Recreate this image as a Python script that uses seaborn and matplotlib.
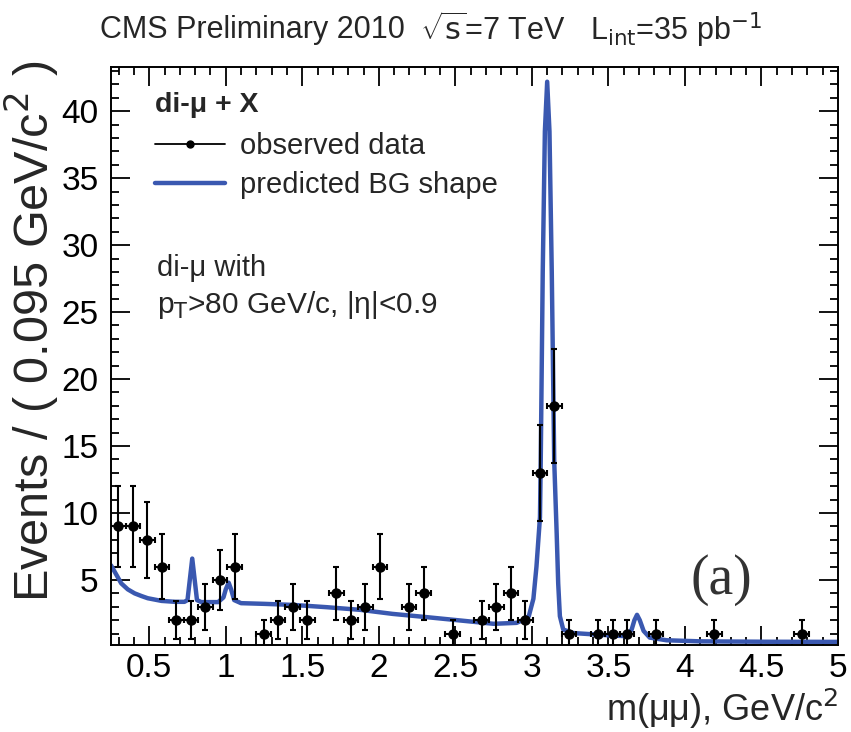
import numpy as np
import pandas as pd
import matplotlib
matplotlib.use("Agg")
import matplotlib.pyplot as plt
import seaborn as sns
from matplotlib.lines import Line2D
from matplotlib.ticker import MultipleLocator, FuncFormatter

# observed di-muon mass spectrum (bin centres, 0.095 GeV/c^2 bins), empty bins left out
mass = [0.2975, 0.3925, 0.4875, 0.5825, 0.6775, 0.7725, 0.8675, 0.9625, 1.0575,
        1.2475, 1.3425, 1.4375, 1.5325, 1.7225, 1.8175, 1.9125, 2.0075, 2.1975,
        2.2925, 2.4825, 2.6725, 2.7675, 2.8625, 2.9575, 3.0525, 3.1475, 3.2425,
        3.4325, 3.5275, 3.6225, 3.8125, 4.1925, 4.7625]
counts = [9, 9, 8, 6, 2, 2, 3, 5, 6,
          1, 2, 3, 2, 4, 2, 3, 6, 3,
          4, 1, 2, 3, 4, 2, 13, 18, 1,
          1, 1, 1, 1, 1, 1]
half_bin = 0.0475

# predicted background shape
bg_mass = [0.25, 0.28, 0.317, 0.36, 0.405, 0.45, 0.49, 0.58, 0.67, 0.73, 0.75, 0.765,
           0.781, 0.797, 0.812, 0.84, 0.95, 0.985, 1.0, 1.019, 1.035, 1.055, 1.10,
           1.25, 1.44, 1.66, 1.88, 2.09, 2.31, 2.53, 2.75, 2.90, 2.95, 2.98, 3.01,
           3.03, 3.053, 3.058, 3.071, 3.085, 3.100, 3.115, 3.13, 3.146, 3.151, 3.162,
           3.172, 3.183, 3.205, 3.27, 3.445, 3.62, 3.652, 3.67, 3.687, 3.705, 3.73,
           3.77, 3.88, 4.10, 4.53, 5.00]
bg_events = [6.1, 5.5, 4.75, 4.3, 4.0, 3.8, 3.64, 3.44, 3.37, 3.37, 3.5, 5.0,
             6.6, 5.0, 3.5, 3.35, 3.35, 3.7, 4.3, 4.8, 4.3, 3.5, 3.27,
             3.22, 3.14, 2.97, 2.77, 2.47, 2.23, 1.98, 1.73, 1.80, 2.05, 2.3, 3.6,
             6.0, 9.7, 13.9, 28.0, 38.5, 42.2, 38.5, 28.0, 13.9, 12.2, 8.5,
             4.75, 2.3, 1.3, 1.04, 0.91, 0.8, 1.3, 2.0, 2.4, 2.0, 1.2,
             0.7, 0.5, 0.42, 0.39, 0.38]

data = pd.DataFrame({"m": mass, "n": counts})
bg = pd.DataFrame({"m": bg_mass, "events": bg_events})

sns.set_theme(style="ticks")
narrow = ["Liberation Sans Narrow", "Liberation Sans", "DejaVu Sans"]
plain = ["Liberation Sans", "DejaVu Sans"]
plt.rcParams["font.family"] = narrow
plt.rcParams["mathtext.fontset"] = "custom"
plt.rcParams["mathtext.rm"] = "Liberation Sans Narrow"
plt.rcParams["mathtext.it"] = "Liberation Sans Narrow:italic"
plt.rcParams["mathtext.bf"] = "Liberation Sans Narrow:bold"

blue = "#3a58b0"

fig = plt.figure(figsize=(8.51, 7.32), dpi=100)
ax = fig.add_axes([0.1304, 0.1189, 0.8543, 0.7896])

sns.lineplot(data=bg, x="m", y="events", color=blue, lw=3.2, estimator=None,
             sort=False, ax=ax, zorder=2)
ax.errorbar(data["m"], data["n"], xerr=half_bin, yerr=np.sqrt(data["n"]),
            fmt="o", color="black", ms=6.5, elinewidth=1.5, capsize=2.5,
            capthick=1.5, zorder=3)

ax.set_xlim(0.25, 5.0)
ax.set_ylim(0.15, 43.3)
ax.xaxis.set_major_locator(MultipleLocator(0.5))
ax.xaxis.set_minor_locator(MultipleLocator(0.1))
ax.yaxis.set_major_locator(MultipleLocator(5))
ax.yaxis.set_minor_locator(MultipleLocator(1))
ax.xaxis.set_major_formatter(FuncFormatter(lambda v, p: f"{v:g}"))
ax.tick_params(which="both", direction="in", top=True, right=True, width=1.3,
               colors="black", labelsize=24)
ax.tick_params(which="major", length=13.5)
ax.tick_params(which="minor", length=6)
ax.tick_params(axis="x", pad=6)
ax.tick_params(axis="y", pad=9)
for s in ax.spines.values():
    s.set_linewidth(1.4)
    s.set_color("black")
ax.set_xlabel("")
ax.set_ylabel("")

fig.text(0.985, 1 - 721 / 732, "m(μμ), GeV/c$^{2}$", ha="right", va="baseline",
         fontsize=26, family=plain)
fig.text(32 / 851, 0.917, "Events / ( 0.095 GeV/c$^{2}$ )", rotation=90, ha="center",
         va="top", fontsize=35, family=plain)

# header in three pieces
fig.text(100 / 851, 0.959, "CMS Preliminary 2010", ha="left", va="center", fontsize=22)
fig.text(420 / 851, 0.959, r"$\sqrt{\mathrm{s}}$=7 TeV", ha="left", va="center",
         fontsize=22)
fig.text(590 / 851, 0.959, r"L$_{\mathrm{int}}$=35 pb$^{\mathrm{-1}}$", ha="left",
         va="center", fontsize=22)

ax.text(0.0605, 0.934, "di-μ + X", transform=ax.transAxes, ha="left", va="center",
        fontsize=20.5, fontweight="bold", family=plain)
handles = [Line2D([], [], color="black", marker="o", ms=5, lw=1.3),
           Line2D([], [], color=blue, lw=3.2)]
ax.legend(handles, ["observed data", "predicted BG shape"], loc="upper left",
          bbox_to_anchor=(0.045, 0.908), frameon=False, handlelength=2.4,
          handletextpad=0.5, labelspacing=0.38, borderaxespad=0,
          prop={"family": plain, "size": 21})
ax.text(0.063, 0.652, "di-μ with", transform=ax.transAxes, ha="left", va="center",
        fontsize=21, family=plain)
ax.text(0.063, 0.588, r"p$_{\mathrm{T}}$>80 GeV/c, |η|<0.9", transform=ax.transAxes,
        ha="left", va="center", fontsize=21.5, family=plain)
ax.text(0.84, 0.112, "(a)", transform=ax.transAxes, ha="center", va="center",
        fontsize=40, family=["Liberation Serif", "DejaVu Serif"], color="#333333")

fig.savefig("out.png", dpi=100)
